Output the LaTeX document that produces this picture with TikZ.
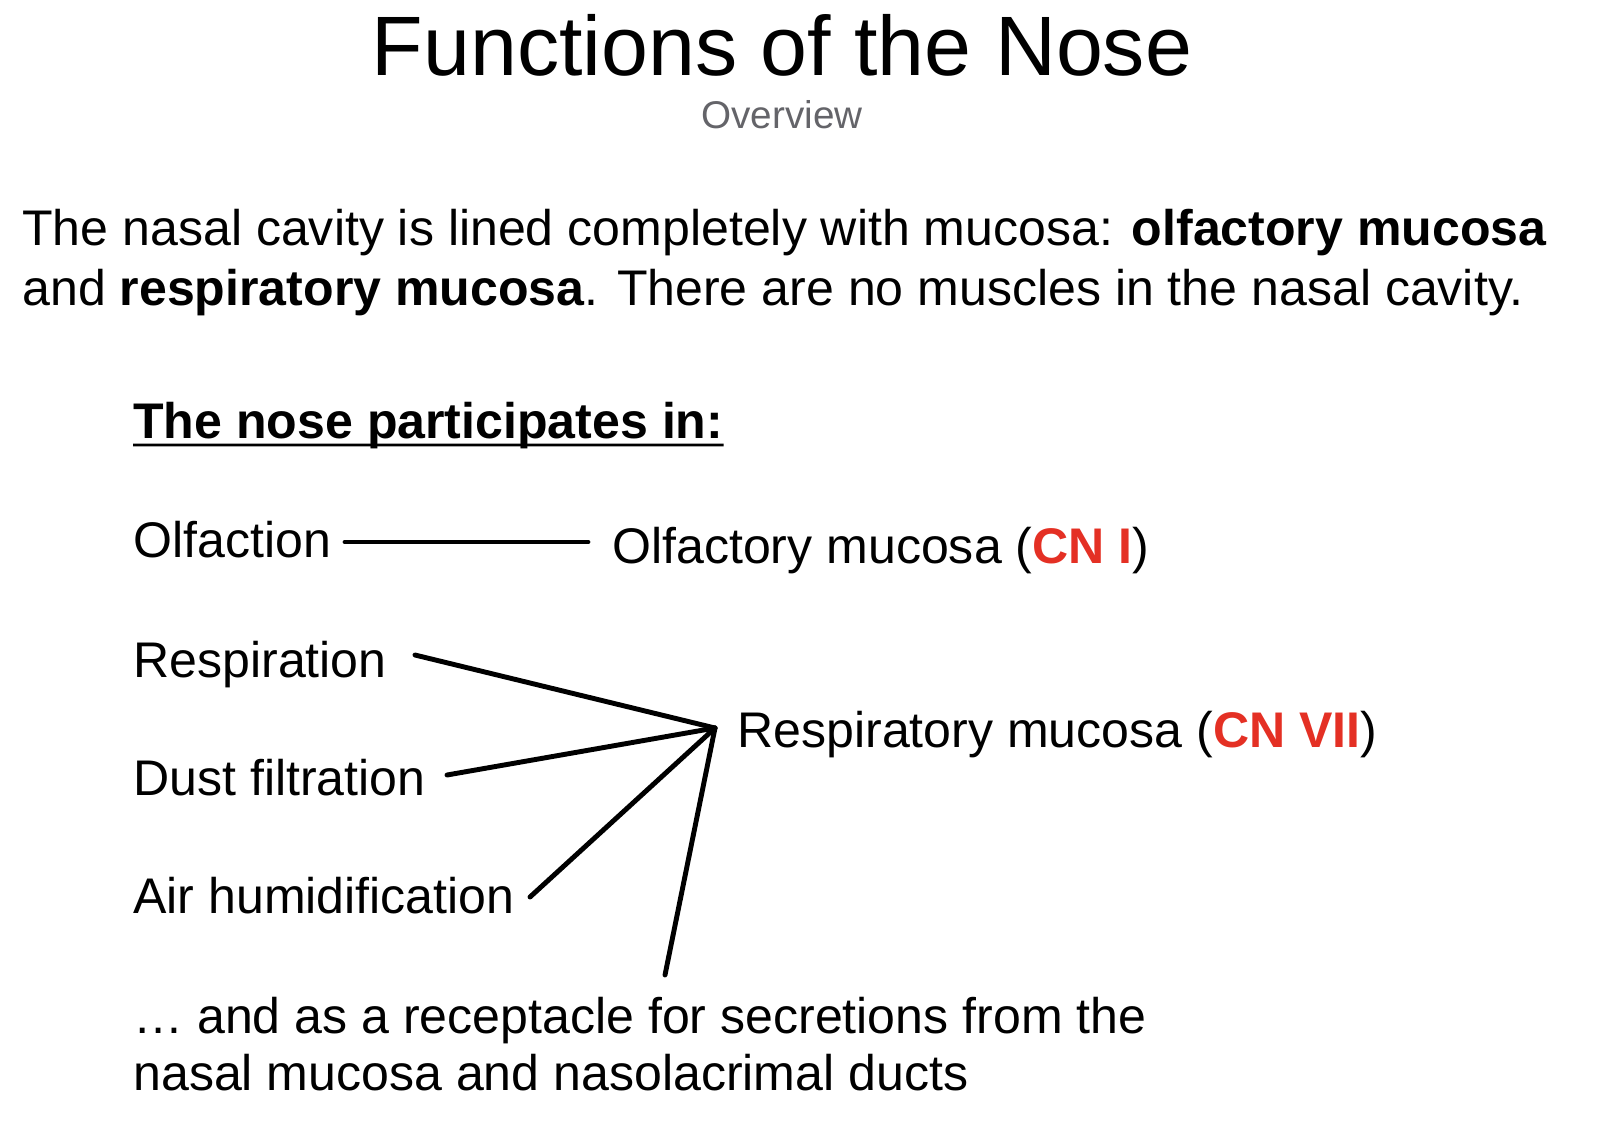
\documentclass[tikz,border=0pt]{standalone}
\usepackage{fontspec}
\setmainfont{Liberation Sans}
\usetikzlibrary{positioning}
\definecolor{cnred}{RGB}{228,48,36}
\definecolor{subgray}{RGB}{100,100,105}
\tikzset{
  txt/.style={anchor=base west, inner sep=0pt, font=\fontsize{28.5}{34}\selectfont},
  link/.style={line width=2.8pt, line cap=round}
}
\begin{document}
\begin{tikzpicture}[x=0.02cm,y=-0.02cm]

\path [use as bounding box] (0,0) rectangle (1600,1134);

% TITLE
\node (title) [anchor=base, inner sep=0pt, font=\fontsize{48}{52}\selectfont] at (782,75) {Functions of the Nose};
\node (sub) [anchor=base, inner sep=0pt, text=subgray, font=\fontsize{22}{26}\selectfont] at (782,128) {Overview};

% INTRO
\node (intro1) [txt] at (22,245) {The nasal cavity is lined completely with mucosa: \textbf{olfactory mucosa}};
\node (intro2) [txt] at (22,305) {and \textbf{respiratory mucosa}. There are no muscles in the nasal cavity.};

% LIST
\node (head) [txt] at (133,438) {\textbf{The nose participates in:}};
\draw [line width=1.6pt] (head.base west) ++(0,7) -- ([yshift=-4pt]head.base east);
\node (olf) [txt] at (133,557) {Olfaction};
\node (resp) [txt] at (133,677) {Respiration};
\node (dust) [txt] at (133,795) {Dust filtration};
\node (air) [txt] at (133,913) {Air humidification};
\node (secr1) [txt] at (133,1033) {\dots\ and as a receptacle for secretions from the};
\node (secr2) [txt] at (133,1090) {nasal mucosa and nasolacrimal ducts};

\node (olfmuc) [txt] at (612,563) {Olfactory mucosa (\textcolor{cnred}{\textbf{CN I}})};
\node (respmuc) [txt] at (737,747) {Respiratory mucosa (\textcolor{cnred}{\textbf{CN VII}})};

% CONNECTORS
\coordinate (olfend) at (345,542);
\coordinate (olfmucend) at (588,542);
\coordinate (hub) at (715,728);
\coordinate (respend) at (415,655);
\coordinate (dustend) at (447,775);
\coordinate (airend) at (530,897);
\coordinate (secrend) at (665,975);

\draw [link] (olfend) -- (olfmucend);
\draw [link] (respend) -- (hub);
\draw [link] (dustend) -- (hub);
\draw [link] (airend) -- (hub);
\draw [link] (secrend) -- (hub);

\end{tikzpicture}
\end{document}
